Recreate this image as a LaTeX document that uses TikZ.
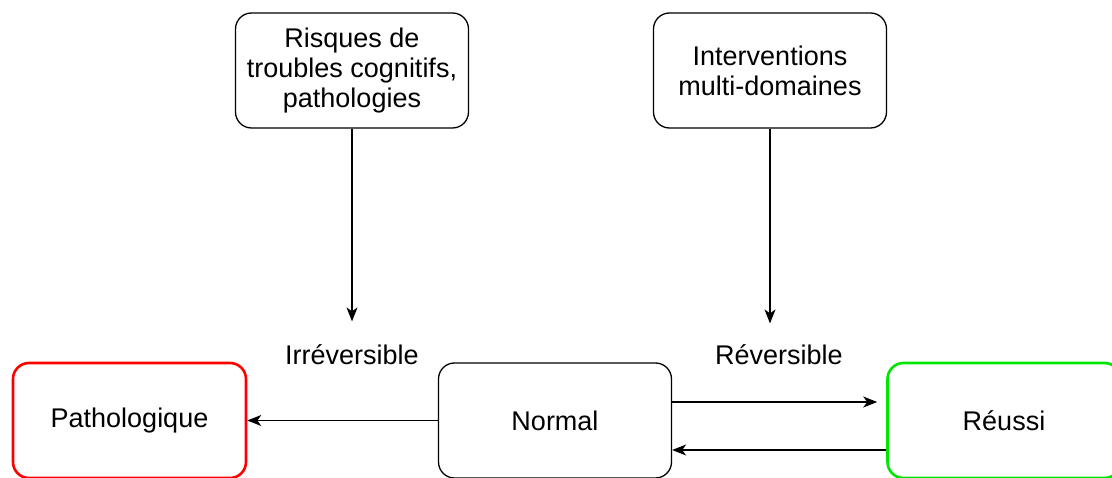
\documentclass[tikz,border=0pt]{standalone}
\usepackage{fontspec}
\setmainfont{Liberation Sans}
\usetikzlibrary{positioning,arrows.meta}
\definecolor{patred}{RGB}{255,0,0}
\definecolor{okgreen}{RGB}{0,230,0}

\begin{document}
\begin{tikzpicture}[x=1pt, y=-1pt,
    box/.style={draw, rounded corners=16pt, minimum width=233pt, minimum height=115pt,
                align=center, line width=1.3pt, font=\fontsize{27}{30}\selectfont},
    link/.style={-{Stealth[length=14pt, width=11pt, inset=4pt]}, line width=1.3pt},
    lbl/.style={font=\fontsize{27}{30}\selectfont}]
\useasboundingbox (0,0) rectangle (1112,478);

% Causes and interventions
\node[box] (risk) at (352,70.5) {Risques de\\troubles cognitifs,\\pathologies};
\node[box] (interv) at (770,70.5) {Interventions\\multi-domaines};

% States
\node[box, draw=patred, line width=2.6pt] (patho) at (129.5,420.5) {Pathologique};
\node[box] (normal) at (555,420.5) {Normal};
\node[box, draw=okgreen, line width=2.6pt] (reussi) at (1004,420.5) {Réussi};

% Labels
\node[lbl] (irrev) at (352,355) {Irréversible};
\node[lbl] (rev) at (779,355) {Réversible};

% Arrows
\draw[link] (risk.south) -- ([yshift=20pt]irrev.north);
\draw[link] (interv.south) -- ([yshift=18pt]interv.south |- rev.north);
\draw[link] (normal.west) -- (patho.east);
\draw[link, shorten >=9pt] ([yshift=18.5pt]normal.east) -- ([yshift=18.5pt]reussi.west);
\draw[link] ([yshift=-29.5pt]reussi.west) -- ([yshift=-29.5pt]normal.east);

\end{tikzpicture}
\end{document}
